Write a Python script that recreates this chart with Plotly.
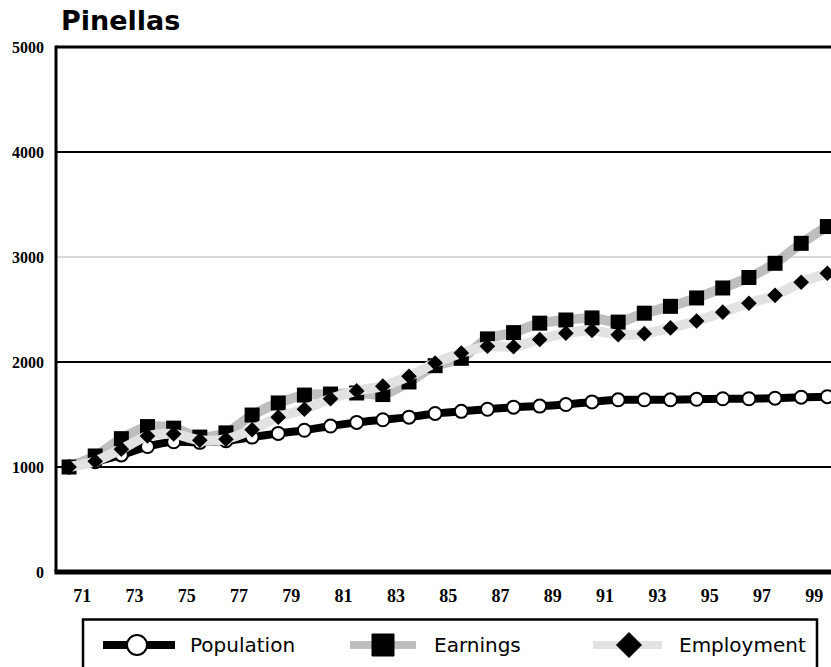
import plotly.graph_objects as go

# Index values, 1970 = 1000
years = list(range(1970, 2000))
population = [1000, 1050, 1115, 1195, 1240, 1235, 1250, 1285, 1320, 1350,
              1390, 1425, 1450, 1475, 1510, 1530, 1550, 1570, 1580, 1595,
              1620, 1640, 1640, 1640, 1645, 1650, 1650, 1655, 1665, 1670]
earnings = [1000, 1105, 1270, 1385, 1370, 1285, 1325, 1495, 1610, 1685,
            1695, 1705, 1690, 1810, 1965, 2035, 2220, 2280, 2370, 2400,
            2420, 2380, 2465, 2530, 2610, 2705, 2805, 2940, 3130, 3290]
employment = [1000, 1055, 1170, 1295, 1315, 1255, 1265, 1355, 1475, 1550,
              1650, 1725, 1770, 1865, 1990, 2085, 2150, 2145, 2215, 2275,
              2300, 2260, 2270, 2325, 2390, 2475, 2560, 2635, 2760, 2845]
tick_labels = ["71", "73", "75", "77", "79", "81", "83", "85",
               "87", "89", "91", "93", "95", "97", "99"]
y_ticks = [0, 1000, 2000, 3000, 4000, 5000]
series_names = ["Population", "Earnings", "Employment"]

W, H = 831, 667
L, T, B = 56, 47, 95
PW, PH = W - L, H - T - B


def px(x):
    return (x - L) / PW


def py(y):
    return (H - B - y) / PH


POP_LINE = "#000000"
EARN_LINE = "#bebebe"
EMP_LINE = "#e2e2e2"

fig = go.Figure()
fig.add_trace(go.Scatter(
    x=years, y=population, name=series_names[0], mode="lines+markers",
    line=dict(color=POP_LINE, width=8, shape="spline", smoothing=0.8),
    marker=dict(symbol="circle", size=13, color="white",
                line=dict(color="black", width=2))))
fig.add_trace(go.Scatter(
    x=years, y=earnings, name=series_names[1], mode="lines+markers",
    line=dict(color=EARN_LINE, width=10, shape="spline", smoothing=0.8),
    marker=dict(symbol="square", size=15, color="black")))
fig.add_trace(go.Scatter(
    x=years, y=employment, name=series_names[2], mode="lines+markers",
    line=dict(color=EMP_LINE, width=10, shape="spline", smoothing=0.8),
    marker=dict(symbol="diamond", size=12, color="black")))

shapes = []
# horizontal gridlines
for v in y_ticks[1:-1]:
    col, w = ("#b4b4b4", 1) if v == 3000 else ("black", 2)
    shapes.append(dict(type="line", xref="paper", yref="y", x0=0, x1=1,
                       y0=v, y1=v, line=dict(color=col, width=w),
                       layer="below"))
# frame: top, left, bottom
shapes.append(dict(type="line", xref="paper", yref="paper", x0=0, x1=1,
                   y0=1, y1=1, line=dict(color="black", width=3)))
shapes.append(dict(type="line", xref="paper", yref="paper", x0=0, x1=0,
                   y0=0, y1=1.003, line=dict(color="black", width=3)))
shapes.append(dict(type="line", xref="paper", yref="paper", x0=-0.002, x1=1,
                   y0=0, y1=0, line=dict(color="black", width=5)))

# legend box
shapes.append(dict(type="rect", xref="paper", yref="paper",
                   x0=px(83), x1=px(817), y0=py(619.5), y1=py(700),
                   line=dict(color="black", width=2.5), fillcolor="white"))
ly = 645
# legend samples
legend_items = [
    (series_names[0], POP_LINE, 103, 175, 137, 188, "circle"),
    (series_names[1], EARN_LINE, 350, 416, 383, 432, "square"),
    (series_names[2], EMP_LINE, 593, 662, 629, 677, "diamond"),
]
annotations = []
for name, col, xa, xb, xm, xt, sym in legend_items:
    shapes.append(dict(type="line", xref="paper", yref="paper",
                       x0=px(xa), x1=px(xb), y0=py(ly), y1=py(ly),
                       line=dict(color=col, width=8)))
    if sym == "circle":
        r = 10
        shapes.append(dict(type="circle", xref="paper", yref="paper",
                           x0=px(xm - r), x1=px(xm + r),
                           y0=py(ly + r), y1=py(ly - r),
                           fillcolor="white", line=dict(color="black", width=2)))
    elif sym == "square":
        r = 11
        shapes.append(dict(type="rect", xref="paper", yref="paper",
                           x0=px(xm - r), x1=px(xm + r),
                           y0=py(ly + r), y1=py(ly - r),
                           fillcolor="black", line=dict(color="black", width=1)))
    else:
        r = 12.5
        path = (f"M {px(xm - r)},{py(ly)} L {px(xm)},{py(ly - r)} "
                f"L {px(xm + r)},{py(ly)} L {px(xm)},{py(ly + r)} Z")
        shapes.append(dict(type="path", xref="paper", yref="paper", path=path,
                           fillcolor="black", line=dict(color="black", width=1)))
    annotations.append(dict(xref="paper", yref="paper", x=px(xt), y=py(ly),
                            xanchor="left", yanchor="middle", showarrow=False,
                            text=name,
                            font=dict(family="DejaVu Sans", size=20,
                                      color="black", weight=500)))

fig.update_layout(
    width=W, height=H,
    margin=dict(l=L, r=0, t=T, b=B, pad=0),
    paper_bgcolor="white", plot_bgcolor="white",
    showlegend=False,
    title=dict(text="<b>Pinellas</b>", xref="container", yref="container",
               x=61 / W, xanchor="left", y=1 - 21 / H, yanchor="middle",
               font=dict(family="DejaVu Sans", size=27, color="black")),
    shapes=shapes,
    annotations=annotations,
)
fig.update_xaxes(
    range=[1969.5, 1999.14],
    tickmode="array",
    tickvals=[1900 + int(t) - 0.5 for t in tick_labels],
    ticktext=tick_labels,
    showgrid=False, zeroline=False, showline=False, ticks="",
    ticklabelstandoff=11,
    tickfont=dict(family="Liberation Serif", size=18, color="black",
                  weight="bold"),
)
fig.update_yaxes(
    range=[0, 5000],
    tickmode="array", tickvals=y_ticks,
    ticktext=[str(v) for v in y_ticks],
    showgrid=False, zeroline=False, showline=False, ticks="",
    ticklabelstandoff=11,
    tickfont=dict(family="Liberation Serif", size=16, color="black",
                  weight="bold"),
)

fig.write_html("out.html")
